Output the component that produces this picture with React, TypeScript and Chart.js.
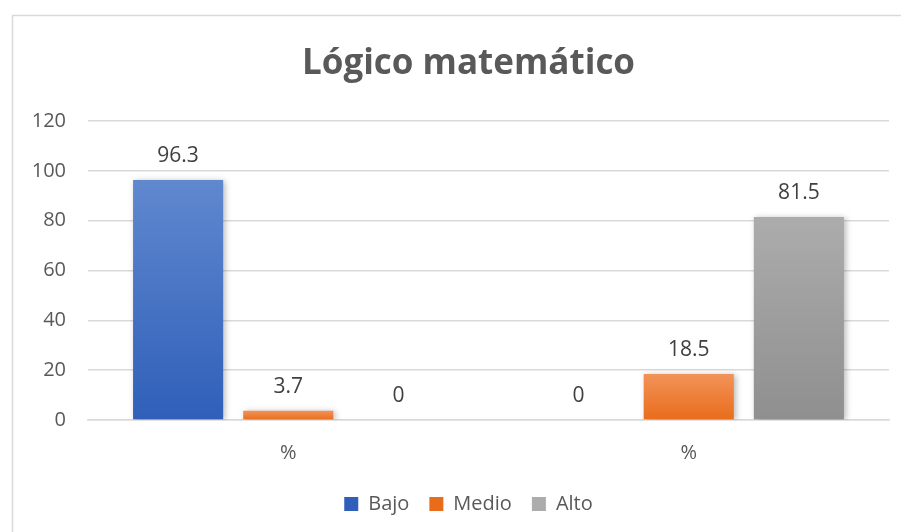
import React, { useEffect, useRef } from "react";
import { Chart, registerables } from "chart.js";

Chart.register(...registerables);

const categories = ["%", "%"];
const seriesNames = ["Bajo", "Medio", "Alto"];
const bajoValues = [96.3, 0];
const medioValues = [3.7, 18.5];
const altoValues = [0, 81.5];
const yTicks = { min: 0, max: 120, step: 20 };

const FONT = "'Open Sans', 'DejaVu Sans', sans-serif";
const TEXT = "#595959";

// top colour, bottom colour for each series
const palettes: [string, string][] = [
  ["#6088cf", "#2f5fb9"],
  ["#f29359", "#e96c1a"],
  ["#acacac", "#8f8f8f"],
];

function barFill(idx: number) {
  return (ctx: any) => {
    const chart = ctx.chart;
    const [top, bottom] = palettes[idx];
    if (!chart.chartArea || ctx.raw === undefined || ctx.raw === null) return top;
    const y = chart.scales.y;
    const yTop = y.getPixelForValue(ctx.raw);
    const yBottom = y.getPixelForValue(0);
    if (!(yBottom - yTop > 0.5)) return top;
    const g = chart.ctx.createLinearGradient(0, yTop, 0, yBottom);
    g.addColorStop(0, top);
    g.addColorStop(1, bottom);
    return g;
  };
}

const framePlugin = {
  id: "frame",
  beforeDraw(chart: any) {
    const { ctx, width, height } = chart;
    ctx.save();
    ctx.fillStyle = "#ffffff";
    ctx.fillRect(0, 0, width, height);
    ctx.strokeStyle = "#d9d9d9";
    ctx.lineWidth = 1.5;
    ctx.strokeRect(12.5, 15.5, width + 20, height + 20);
    ctx.restore();
  },
};

// title and legend are centred a little right of the canvas middle
const CENTER_SHIFT = 24;
const centerShiftPlugin = {
  id: "centerShift",
  afterLayout(chart: any) {
    const boxes = [chart.titleBlock, chart.legend];
    boxes.forEach((b: any) => {
      if (!b) return;
      b.left += CENTER_SHIFT;
      b.right += CENTER_SHIFT;
    });
  },
};

const shadowPlugin = {
  id: "barShadow",
  beforeDatasetDraw(chart: any) {
    const ctx = chart.ctx;
    ctx.save();
    ctx.shadowColor = "rgba(0,0,0,0.28)";
    ctx.shadowBlur = 6;
    ctx.shadowOffsetX = 2;
    ctx.shadowOffsetY = 1;
  },
  afterDatasetDraw(chart: any) {
    chart.ctx.restore();
  },
};

const valueLabelPlugin = {
  id: "valueLabels",
  afterDatasetsDraw(chart: any) {
    const ctx = chart.ctx;
    ctx.save();
    ctx.font = `21px ${FONT}`;
    ctx.fillStyle = "#404040";
    ctx.textAlign = "center";
    ctx.textBaseline = "middle";
    chart.data.datasets.forEach((ds: any, di: number) => {
      const meta = chart.getDatasetMeta(di);
      meta.data.forEach((bar: any, i: number) => {
        const v = ds.data[i];
        ctx.fillText(String(v), bar.x, bar.y - 24);
      });
    });
    ctx.restore();
  },
};

export default function App() {
  const canvasRef = useRef<HTMLCanvasElement | null>(null);

  useEffect(() => {
    if (!canvasRef.current) return;
    const seriesData = [bajoValues, medioValues, altoValues];
    const chart = new Chart(canvasRef.current, {
      type: "bar",
      data: {
        labels: categories,
        datasets: seriesNames.map((name, i) => ({
          label: name,
          data: seriesData[i],
          backgroundColor: barFill(i),
          borderWidth: 0,
          categoryPercentage: 0.825,
          barPercentage: 0.818,
        })),
      },
      options: {
        responsive: false,
        animation: false,
        layout: { padding: { top: 15, right: 12, left: 0, bottom: 8 } },
        plugins: {
          title: {
            display: true,
            text: "Lógico matemático",
            color: TEXT,
            font: { family: FONT, size: 35, weight: "bold", lineHeight: 1.2 },
            padding: { top: 28, bottom: 36 },
          },
          legend: {
            position: "bottom",
            labels: {
              color: TEXT,
              font: { family: FONT, size: 20 },
              boxWidth: 14,
              boxHeight: 14,
              padding: 20,
            },
          },
          tooltip: { enabled: false },
        },
        scales: {
          x: {
            grid: { display: false },
            border: { display: true, color: "#d9d9d9", width: 1.5 },
            ticks: { color: TEXT, font: { family: FONT, size: 20 }, padding: 13 },
            afterFit(scale: any) {
              scale.height = scale.height - 4;
            },
          },
          y: {
            min: yTicks.min,
            max: yTicks.max,
            grid: { color: "#d9d9d9", lineWidth: 1.5, drawTicks: false },
            border: { display: false },
            ticks: {
              stepSize: yTicks.step,
              color: TEXT,
              font: { family: FONT, size: 20 },
              padding: 22,
            },
            afterFit(scale: any) {
              scale.width = 88;
            },
          },
        },
      },
      plugins: [framePlugin, centerShiftPlugin, shadowPlugin, valueLabelPlugin],
    });
    return () => chart.destroy();
  }, []);

  return (
    <div style={{ position: "fixed", left: 0, top: 0, width: 901, height: 532, background: "#fff" }}>
      <canvas ref={canvasRef} width={901} height={532} style={{ display: "block", width: 901, height: 532 }} />
    </div>
  );
}
